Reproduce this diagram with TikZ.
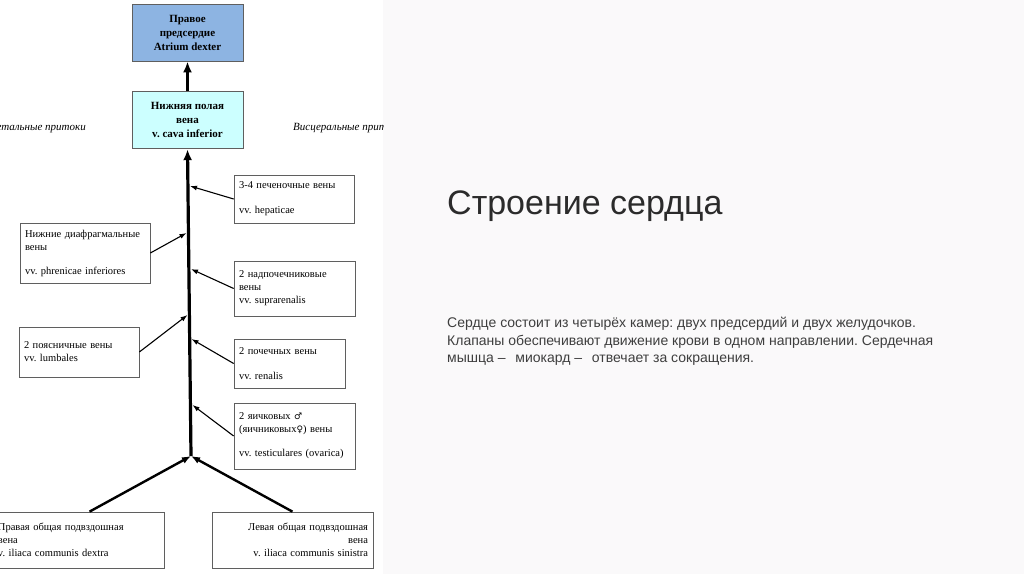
\documentclass[tikz,border=0pt]{standalone}
\usepackage{fontspec}
\setmainfont{Liberation Serif}
\newfontfamily\slidefont{Liberation Sans}
\newfontfamily\signfont{DejaVu Sans}
\usetikzlibrary{arrows.meta,positioning}
\definecolor{atriumblue}{RGB}{141,180,226}
\definecolor{cavacyan}{RGB}{204,255,255}
\definecolor{boxgray}{RGB}{95,95,95}
\definecolor{slidebg}{RGB}{250,249,250}
\definecolor{slidetext}{RGB}{62,62,62}
\newcommand{\marssign}{{\signfont\fontsize{9}{9}\selectfont ♂}}
\newcommand{\venussign}{{\signfont\fontsize{9}{9}\selectfont ♀}}
\frenchspacing

\begin{document}
\begin{tikzpicture}[x=1pt,y=-1pt,node distance=30pt,
        chamber/.style={rectangle,draw=boxgray,fill=atriumblue,line width=0.8pt,
          minimum width=111pt,minimum height=57pt,align=center,
          font=\bfseries\fontsize{11}{14}\selectfont},
        cava/.style={chamber,fill=cavacyan},
        vein/.style={rectangle,draw=boxgray,line width=0.7pt,align=left,inner sep=5pt,
          font=\fontsize{10.5}{13}\selectfont},
        sidenote/.style={font=\itshape\fontsize{11}{13}\selectfont,inner sep=0pt},
        trunk/.style={-{Latex[length=11pt,width=9pt]},line width=3.2pt},
        branch/.style={-{Latex[length=9pt,width=7pt]},line width=2.4pt},
        arrow/.style={-{Latex[length=7pt,width=5pt]},line width=1.1pt}]
        \useasboundingbox (0,0) rectangle (1024,574);
        \fill[white] (0,0) rectangle (383,574);
        \fill[slidebg] (383,0) rectangle (1024,574);
        \begin{scope}
        \clip (0,0) rectangle (383,574);
        \node[chamber] (atrium) at (187.5,32.5) {Правое\\предсердие\\Atrium dexter};
        \node[cava,below=30pt of atrium] (ivc) {Нижняя полая\\вена\\v. cava inferior};
        \node[sidenote,anchor=east] (parietal) at (86,128) {Париетальные притоки};
        \node[sidenote,anchor=west] (visceral) at (293,128) {Висцеральные притоки};
        % tributaries
        \node[vein,text width=110pt,minimum height=48pt] (hep) at (294,199)
          {3-4 печеночные вены\\[12pt]vv. hepaticae};
        \node[vein,text width=120pt,minimum height=60pt] (phren) at (85,253)
          {Нижние диафрагмальные\\вены\\[11pt]vv. phrenicae inferiores};
        \node[vein,text width=111pt,minimum height=55pt] (supra) at (294.5,288.5)
          {2 надпочечниковые\\вены\\vv. suprarenalis};
        \node[vein,text width=110pt,minimum height=50pt] (lumb) at (79,352)
          {2 поясничные вены\\vv. lumbales};
        \node[vein,text width=101pt,minimum height=49pt] (ren) at (289.5,363.5)
          {2 почечных вены\\[12pt]vv. renalis};
        \node[vein,text width=111pt,minimum height=66pt] (test) at (294.5,436)
          {2 яичковых \marssign\\(яичниковых\venussign) вены\\[11pt]vv. testiculares (ovarica)};
        \node[vein,text width=161pt,minimum height=56pt] (dextra) at (78.5,540)
          {Правая общая подвздошная\\вена\\v. iliaca communis dextra};
        \node[vein,text width=151pt,minimum height=56pt,align=right] (sinistra) at (292.5,540)
          {Левая общая подвздошная\\вена\\v. iliaca communis sinistra};
        % points on the trunk
        \coordinate (junc) at (191,456);
        \coordinate (hepin) at (190,186);
        \coordinate (phrenin) at (186.5,233);
        \coordinate (suprain) at (191,269);
        \coordinate (lumbin) at (187.5,315);
        \coordinate (renin) at (191.5,339);
        \coordinate (testin) at (192.5,405);
        \draw[trunk] (ivc) -- (atrium);
        \draw[trunk] (junc) -- (ivc.south);
        \draw[branch] ([xshift=11pt]dextra.north) -- (junc);
        \draw[branch] (sinistra.north) -- (junc);
        \draw[arrow] (hep.west) -- (hepin);
        \draw[arrow] (phren.east) -- (phrenin);
        \draw[arrow] (supra.west) -- (suprain);
        \draw[arrow] (lumb.east) -- (lumbin);
        \draw[arrow] (ren.west) -- (renin);
        \draw[arrow] (test.west) -- (testin);
        \end{scope}
        % slide text
        \node[anchor=base west,inner sep=0pt,text=slidetext!70!black,
          font=\slidefont\fontsize{34}{40}\selectfont] (title) at (447,214) {Строение сердца};
        \node[anchor=north west,inner sep=0pt,align=left,text=slidetext,
          font=\slidefont\fontsize{14}{17.5}\selectfont] (body) at (447,317)
          {Сердце состоит из четырёх камер: двух предсердий и двух желудочков.\\
           Клапаны обеспечивают движение крови в одном направлении. Сердечная\\
           мышца –\hspace{0.7em}миокард –\hspace{0.7em}отвечает за сокращения.};
      \end{tikzpicture}
\end{document}
